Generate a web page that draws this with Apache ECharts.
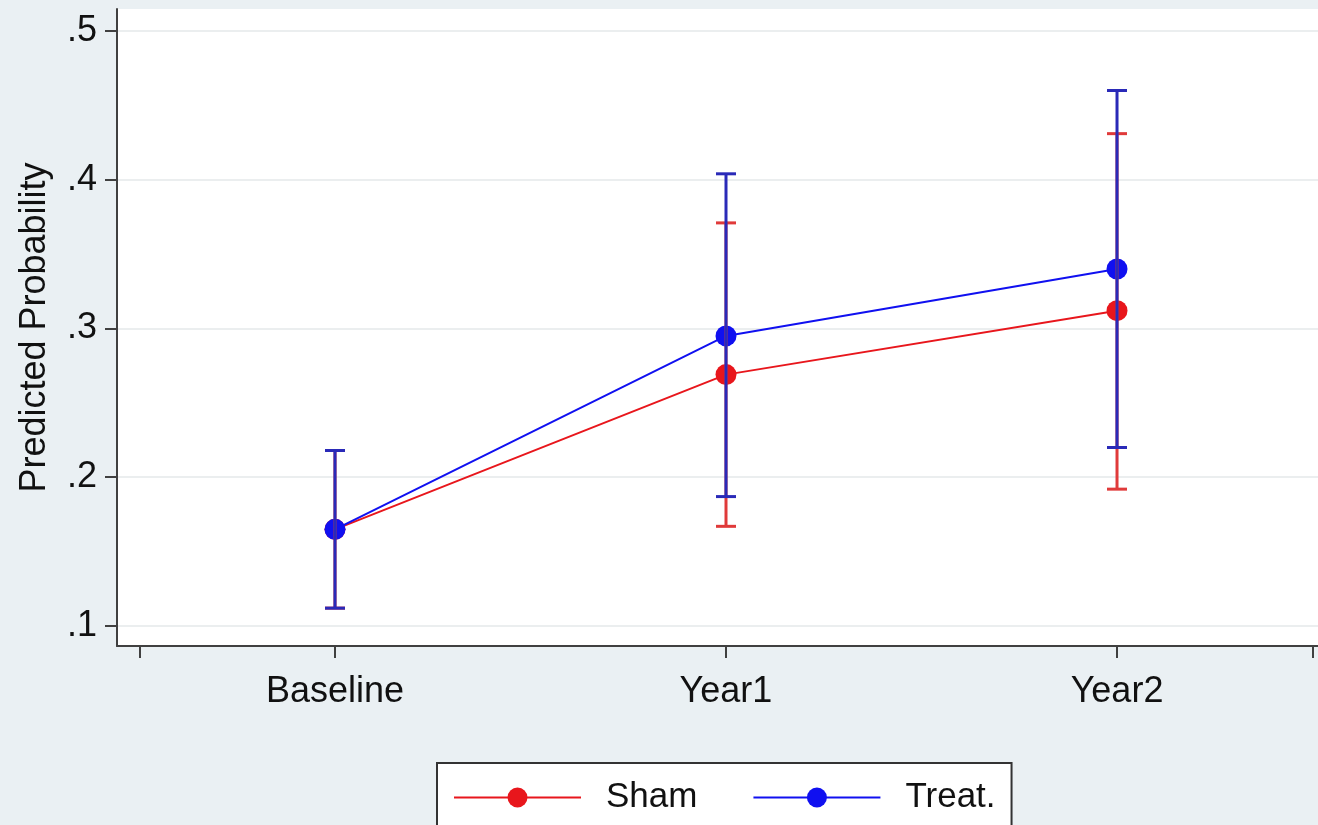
<!DOCTYPE html>
<html>
<head>
<meta charset="utf-8">
<title>Predicted Probability</title>
<script src="https://cdn.jsdelivr.net/npm/echarts@6/dist/echarts.min.js"></script>
<style>
  html, body { margin: 0; padding: 0; background: #EAF0F3; }
  #chart { width: 1318px; height: 825px; }
</style>
</head>
<body>
<div id="chart"></div>
<script>
// Time points and their positions on the x scale
const categories = ['Baseline', 'Year1', 'Year2'];
const positions = [1, 2, 3];

// Predicted probabilities
const shamValues = [0.165, 0.269, 0.312];
const treatValues = [0.165, 0.295, 0.340];

// Confidence intervals (lower / upper)
const shamLower = [0.112, 0.167, 0.192];
const shamUpper = [0.218, 0.371, 0.431];
const treatLower = [0.112, 0.187, 0.220];
const treatUpper = [0.218, 0.404, 0.460];

// Axis ticks
const yTicks = [0.1, 0.2, 0.3, 0.4, 0.5];
const xTicks = [0.5, 1, 2, 3, 3.5];

const FONT = '"Liberation Sans", Arial, sans-serif';
const RED = '#E8161C';
const BLUE = '#1010F0';
const RED_CI = '#E03A3A';
const BLUE_CI = '#2A2AB8';

function pairs(xs, ys) { return xs.map((x, i) => [x, ys[i]]); }
function ciRows(xs, lo, hi) { return xs.map((x, i) => [x, lo[i], hi[i]]); }

// Vertical interval with a short cap at each end
function capRenderer(color) {
  return function (params, api) {
    const x = api.value(0);
    const top = api.coord([x, api.value(2)]);
    const bot = api.coord([x, api.value(1)]);
    const hw = 10;
    const style = { stroke: color, lineWidth: 3 };
    return {
      type: 'group',
      children: [
        { type: 'line', shape: { x1: top[0], y1: top[1], x2: bot[0], y2: bot[1] }, style },
        { type: 'line', shape: { x1: top[0] - hw, y1: top[1], x2: top[0] + hw, y2: top[1] }, style },
        { type: 'line', shape: { x1: bot[0] - hw, y1: bot[1], x2: bot[0] + hw, y2: bot[1] }, style }
      ]
    };
  };
}

const chart = echarts.init(document.getElementById('chart'));
chart.setOption({
  backgroundColor: '#EAF0F3',
  animation: false,
  grid: {
    left: 117, top: 9, right: 0, bottom: 179,
    outerBoundsMode: 'none',
    containLabel: false,
    show: true, backgroundColor: '#FFFFFF', borderWidth: 0
  },
  xAxis: {
    type: 'value',
    min: 0.4425, max: 3.514,
    axisLine: { show: true, onZero: false, lineStyle: { color: '#404040', width: 2 } },
    axisTick: { show: true, length: 12, customValues: xTicks, lineStyle: { color: '#404040', width: 2 } },
    axisLabel: {
      customValues: positions,
      margin: 28,
      fontFamily: FONT, fontSize: 36, color: '#111',
      formatter: v => categories[positions.indexOf(v)] || ''
    },
    splitLine: { show: false }
  },
  yAxis: {
    type: 'value',
    min: 0.08655, max: 0.5148,
    name: 'Predicted Probability',
    nameLocation: 'middle',
    nameGap: 64,
    nameTextStyle: { fontFamily: FONT, fontSize: 36, color: '#111' },
    axisLine: { show: true, onZero: false, lineStyle: { color: '#404040', width: 2 } },
    axisTick: { show: true, length: 12, customValues: yTicks, lineStyle: { color: '#404040', width: 2 } },
    axisLabel: {
      customValues: yTicks,
      margin: 20,
      fontFamily: FONT, fontSize: 36, color: '#111',
      formatter: v => String(Math.round(v * 10) / 10).replace(/^0/, '')
    },
    splitLine: { show: true, lineStyle: { color: '#EBEEEF', width: 2 } }
  },
  legend: {
    left: 437, top: 763,
    padding: [17, 16, 16, 16],
    backgroundColor: '#FFFFFF',
    borderColor: '#333333', borderWidth: 2, borderRadius: 0,
    itemWidth: 127, itemHeight: 25, itemGap: 55,
    textStyle: { fontFamily: FONT, fontSize: 35, color: '#111', padding: [0, 0, 0, 20] },
    data: ['Sham', 'Treat.']
  },
  series: [
    {
      name: 'Sham', type: 'line', z: 2,
      data: pairs(positions, shamValues),
      symbol: 'circle', symbolSize: 21,
      lineStyle: { color: RED, width: 2 },
      itemStyle: { color: RED }
    },
    {
      name: 'Treat.', type: 'line', z: 3,
      data: pairs(positions, treatValues),
      symbol: 'circle', symbolSize: 21,
      lineStyle: { color: BLUE, width: 2 },
      itemStyle: { color: BLUE }
    },
    {
      name: 'Sham CI', type: 'custom', z: 4,
      data: ciRows(positions, shamLower, shamUpper),
      renderItem: capRenderer(RED_CI)
    },
    {
      name: 'Treat. CI', type: 'custom', z: 5,
      data: ciRows(positions, treatLower, treatUpper),
      renderItem: capRenderer(BLUE_CI)
    }
  ]
});
</script>
</body>
</html>
